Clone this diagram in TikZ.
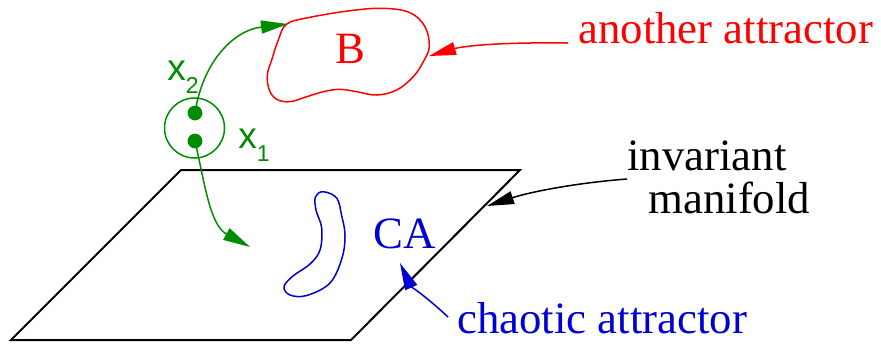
\documentclass[tikz,border=0pt]{standalone}
\usepackage{fontspec}
\setmainfont{Liberation Serif}
\newfontfamily\xsans{Liberation Sans}
\usetikzlibrary{arrows.meta}
\definecolor{figgreen}{RGB}{0,140,0}
\definecolor{figblue}{RGB}{0,0,210}
\definecolor{figred}{RGB}{255,0,0}
\tikzset{
  lbl/.style={anchor=base west,inner sep=0pt,font=\fontsize{22.4}{26}\selectfont},
  xlbl/.style={anchor=base west,inner sep=0pt,text=figgreen,font=\fontsize{18.5}{20}\xsans},
  tri/.style={-{Triangle[length=13.5pt,width=6.5pt]}},
  thinline/.style={line width=0.75pt},
}
\begin{document}
\begin{tikzpicture}[x=0.5pt,y=-0.5pt]
\useasboundingbox (0,0) rectangle (881,344);
% invariant manifold
\draw[line width=1pt,line join=miter] (181,170) coordinate (p1) -- (520,170) coordinate (p2) -- (351,340) coordinate (p3) -- (11,340) coordinate (p4) -- cycle;
% attractor B
\draw[figred,thinline] plot[smooth cycle,tension=0.6] coordinates {
 (286.7,24) (310,17.3) (350,10.7) (383.3,8.3) (410,12.7) (425,26.7) (429.3,46.7)
 (423.3,61.7) (413.3,76.7) (396.7,90) (376.7,95) (356.7,91.7) (340,89.3) (323.3,91.7)
 (306.7,96.7) (290,101.7) (276.7,99.3) (269.3,90) (267.3,75) (271.7,60) (278.3,40)};
% chaotic attractor CA
\draw[figblue,thinline] plot[smooth cycle,tension=0.6] coordinates {
 (323.3,191.7) (315.5,196.7) (316,210) (321.7,228) (320,250) (310,264) (293,276) (284,286.7)
 (290,295) (306.7,295.5) (330,283) (342,258) (345,235) (341.5,215) (336.7,198)};
% texts
\node[lbl,text=figred] (another) at (578,43) {another attractor};
\node[lbl,text=figred,anchor=base] (B) at (350.5,63) {B};
\node[lbl,text=figblue] (CA) at (373,248) {CA};
\node[lbl,text=figblue] (chaotic) at (457,333) {chaotic attractor};
\node[lbl] (inv) at (627,170) {invariant};
\node[lbl] (man) at (648,213) {manifold};
\node[xlbl] (x2) at (167,80) {x\raisebox{-6.5pt}{\fontsize{11.5}{12}\selectfont 2}};
\node[xlbl] (x1) at (238,148) {x\raisebox{-6.5pt}{\fontsize{11.5}{12}\selectfont 1}};
% ball and points
\draw[figgreen,thinline] (194.5,128) circle[radius=15pt];
\coordinate (d2) at (195,113);
\coordinate (d1) at (195,141);
\fill[figgreen] (d2) circle[radius=3.7pt];
\fill[figgreen] (d1) circle[radius=3.7pt];
% green trajectories
\coordinate (Btip) at (288,24);
\coordinate (Mtip) at (250,247);
\draw[figgreen,thinline,tri] (d2) .. controls (203,60) and (235,30) .. (Btip);
\draw[figgreen,thinline,tri] (d1) .. controls (205,185) and (210,225) .. (Mtip);
% label arrows
\coordinate (a0) at (568,43);
\coordinate (aT) at (429,56);
\draw[figred,thinline,tri] (a0) .. controls (490,42) and (460,47) .. (aT);
\coordinate (i0) at (627,179);
\coordinate (iT) at (487,206);
\draw[black,thinline,tri] (i0) .. controls (575,183) and (530,192) .. (iT);
\coordinate (c0) at (448,317);
\coordinate (cT) at (400,263);
\draw[figblue,thinline,tri] (c0) .. controls (430,300) and (410,285) .. (cT);
\end{tikzpicture}
\end{document}
